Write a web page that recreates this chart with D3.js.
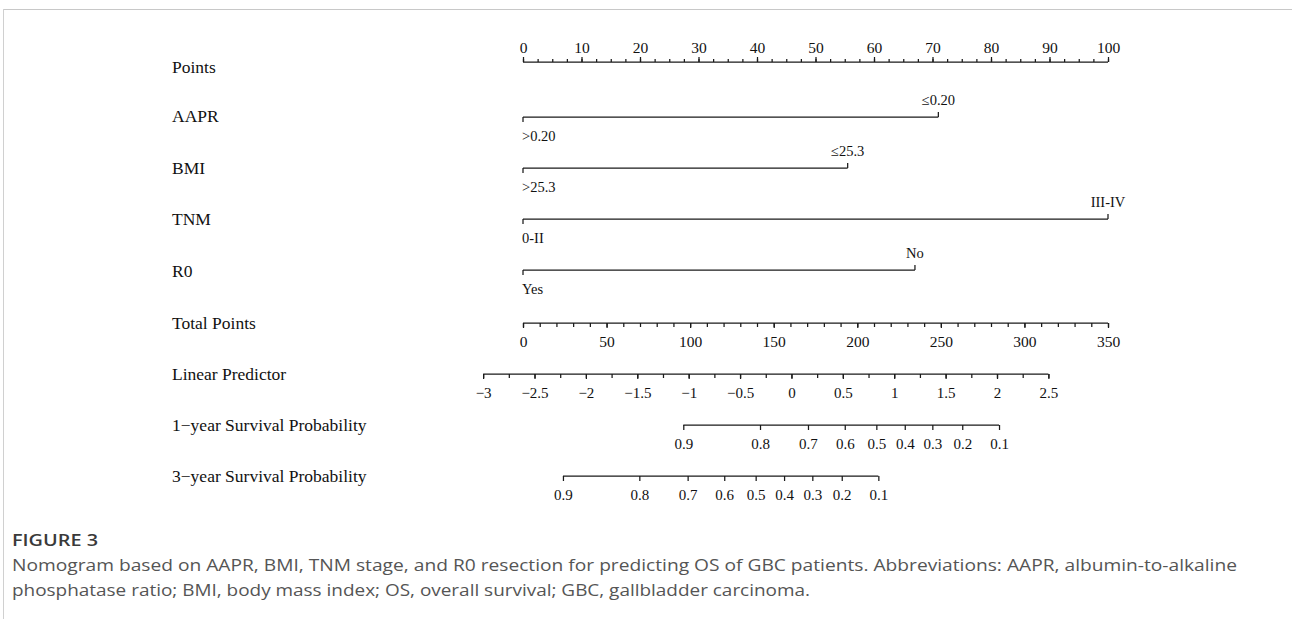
<!DOCTYPE html>
<html>
<head>
<meta charset="utf-8">
<script src="https://cdn.jsdelivr.net/npm/d3@7"></script>
<style>
  html, body { margin: 0; padding: 0; background: #fff; }
  svg { display: block; }
</style>
</head>
<body>
<svg id="chart" width="1292" height="619"></svg>
<script>
// ---- data ----
const pointTicks = d3.range(0, 101, 10);
const pointMinor = d3.range(0, 100.1, 2.5);

const rowNames = ["Points", "AAPR", "BMI", "TNM", "R0", "Total Points",
  "Linear Predictor", "1\u2212year Survival Probability", "3\u2212year Survival Probability"];

// categorical predictors: [low label, high label, points of high level]
const predictors = ["AAPR", "BMI", "TNM", "R0"];
const lowLabels = [">0.20", ">25.3", "0-II", "Yes"];
const highLabels = ["\u22640.20", "\u226425.3", "III-IV", "No"];
const highPoints = [71, 55.5, 100, 67];

const totalTicks = d3.range(0, 351, 50);
const totalMinor = d3.range(0, 351, 10);

const lpTicks = [-3, -2.5, -2, -1.5, -1, -0.5, 0, 0.5, 1, 1.5, 2, 2.5];
const lpMinor = d3.range(-3, 2.51, 0.25);
const lpAtZeroPoints = -2.612;
const lpAtMaxPoints = 3.08;

const survProbs = [0.9, 0.8, 0.7, 0.6, 0.5, 0.4, 0.3, 0.2, 0.1];
const surv1Points = [95.9, 141.8, 170.5, 192.5, 211.4, 228.4, 244.9, 262.8, 284.8];
const surv3Points = [23.9, 69.6, 98.5, 120.4, 139.2, 156.2, 173.1, 190.7, 212.6];

const captionTitle = "FIGURE 3";
const captionLines = [
  "Nomogram based on AAPR, BMI, TNM stage, and R0 resection for predicting OS of GBC patients. Abbreviations: AAPR, albumin-to-alkaline",
  "phosphatase ratio; BMI, body mass index; OS, overall survival; GBC, gallbladder carcinoma."
];

// ---- layout ----
const svg = d3.select("#chart");
const serif = "'Liberation Serif', 'Times New Roman', serif";
const x0 = 523, x1 = 1108;
const rowY = [62, 117, 168, 219, 270, 323, 374, 425, 476];
const labelY = [67, 116, 168, 219, 271, 323, 374, 425, 476];

const xPts = d3.scaleLinear().domain([0, 100]).range([x0, x1]);
const xTot = d3.scaleLinear().domain([0, 350]).range([x0, x1]);
const xLp = d3.scaleLinear().domain([lpAtZeroPoints, lpAtMaxPoints]).range([x0, x1]);

// frame
svg.append("line").attr("x1", 3).attr("x2", 1292).attr("y1", 9.5).attr("y2", 9.5)
  .attr("stroke", "#c8c8c8").attr("stroke-width", 1.2);
svg.append("line").attr("x1", 3.5).attr("x2", 3.5).attr("y1", 9).attr("y2", 619)
  .attr("stroke", "#d0d0d0").attr("stroke-width", 1);

// row labels
svg.append("g").selectAll("text").data(rowNames).join("text")
  .attr("x", 172).attr("y", (d, i) => labelY[i]).attr("dy", "0.35em")
  .attr("font-family", serif).attr("font-size", 17.5).attr("fill", "#111")
  .text(d => d);

function styleAxis(size) {
  return g => {
    g.attr("font-family", serif).attr("font-size", size);
    g.selectAll("path.domain").remove();
    g.selectAll(".tick line").attr("stroke", "#1a1a1a").attr("stroke-width", 1.25);
    g.selectAll(".tick text").attr("fill", "#111");
  };
}
function baseLine(y, xa, xb) {
  svg.append("line").attr("x1", xa).attr("x2", xb).attr("y1", y).attr("y2", y)
    .attr("stroke", "#1a1a1a").attr("stroke-width", 1.25);
}

// Points axis (ticks up)
baseLine(rowY[0], x0, x1);
svg.append("g").attr("transform", `translate(0,${rowY[0]})`)
  .call(d3.axisTop(xPts).tickValues(pointMinor).tickSize(3).tickFormat(""))
  .call(styleAxis(15.5));
svg.append("g").attr("transform", `translate(0,${rowY[0]})`)
  .call(d3.axisTop(xPts).tickValues(pointTicks).tickSize(5).tickPadding(4).tickFormat(d3.format("d")))
  .call(styleAxis(15.5));

// categorical predictors
predictors.forEach((p, i) => {
  const y = rowY[i + 1];
  const xe = xPts(highPoints[i]);
  baseLine(y, x0, xe);
  const g = svg.append("g");
  g.append("line").attr("x1", x0).attr("x2", x0).attr("y1", y).attr("y2", y + 5)
    .attr("stroke", "#1a1a1a").attr("stroke-width", 1.25);
  g.append("line").attr("x1", xe).attr("x2", xe).attr("y1", y).attr("y2", y - 5)
    .attr("stroke", "#1a1a1a").attr("stroke-width", 1.25);
  g.append("text").attr("x", x0 - 1).attr("y", y + 24)
    .attr("font-family", serif).attr("font-size", 14.5).attr("fill", "#111")
    .text(lowLabels[i]);
  g.append("text").attr("x", xe).attr("y", y - 12).attr("text-anchor", "middle")
    .attr("font-family", serif).attr("font-size", 14.5).attr("fill", "#111")
    .text(highLabels[i]);
});

const minusFmt = v => d3.format("")(v).replace("-", "\u2212");

// Total points
baseLine(rowY[5], x0, x1);
svg.append("g").attr("transform", `translate(0,${rowY[5]})`)
  .call(d3.axisBottom(xTot).tickValues(totalMinor).tickSize(4).tickFormat(""))
  .call(styleAxis(15.5));
svg.append("g").attr("transform", `translate(0,${rowY[5]})`)
  .call(d3.axisBottom(xTot).tickValues(totalTicks).tickSize(5).tickPadding(8).tickFormat(d3.format("d")))
  .call(styleAxis(15.5));

// Linear predictor
baseLine(rowY[6], xLp(lpTicks[0]), xLp(lpTicks[lpTicks.length - 1]));
svg.append("g").attr("transform", `translate(0,${rowY[6]})`)
  .call(d3.axisBottom(xLp).tickValues(lpMinor).tickSize(4).tickFormat(""))
  .call(styleAxis(15));
svg.append("g").attr("transform", `translate(0,${rowY[6]})`)
  .call(d3.axisBottom(xLp).tickValues(lpTicks).tickSize(5).tickPadding(8).tickFormat(minusFmt))
  .call(styleAxis(15));

// survival axes
[[surv1Points, rowY[7]], [surv3Points, rowY[8]]].forEach(([pts, y]) => {
  baseLine(y, xTot(d3.min(pts)), xTot(d3.max(pts)));
  svg.append("g").attr("transform", `translate(0,${y})`)
    .call(d3.axisBottom(xTot).tickValues(pts).tickSize(5).tickPadding(8)
      .tickFormat((d, i) => survProbs[i].toFixed(1)))
    .call(styleAxis(15));
});

// caption
const sans = "'Open Sans', 'Noto Sans', sans-serif";
svg.append("text").attr("x", 12).attr("y", 546)
  .attr("font-family", sans).attr("font-size", 16).attr("font-weight", 600).attr("fill", "#3a3a3a")
  .attr("textLength", 86).attr("lengthAdjust", "spacingAndGlyphs")
  .text(captionTitle);
const capW = [1225, 798];
svg.append("g").selectAll("text").data(captionLines).join("text")
  .attr("x", 12).attr("y", (d, i) => 571 + i * 25)
  .attr("font-family", sans).attr("font-size", 16).attr("fill", "#555")
  .attr("textLength", (d, i) => capW[i]).attr("lengthAdjust", "spacingAndGlyphs")
  .text(d => d);
</script>
</body>
</html>
